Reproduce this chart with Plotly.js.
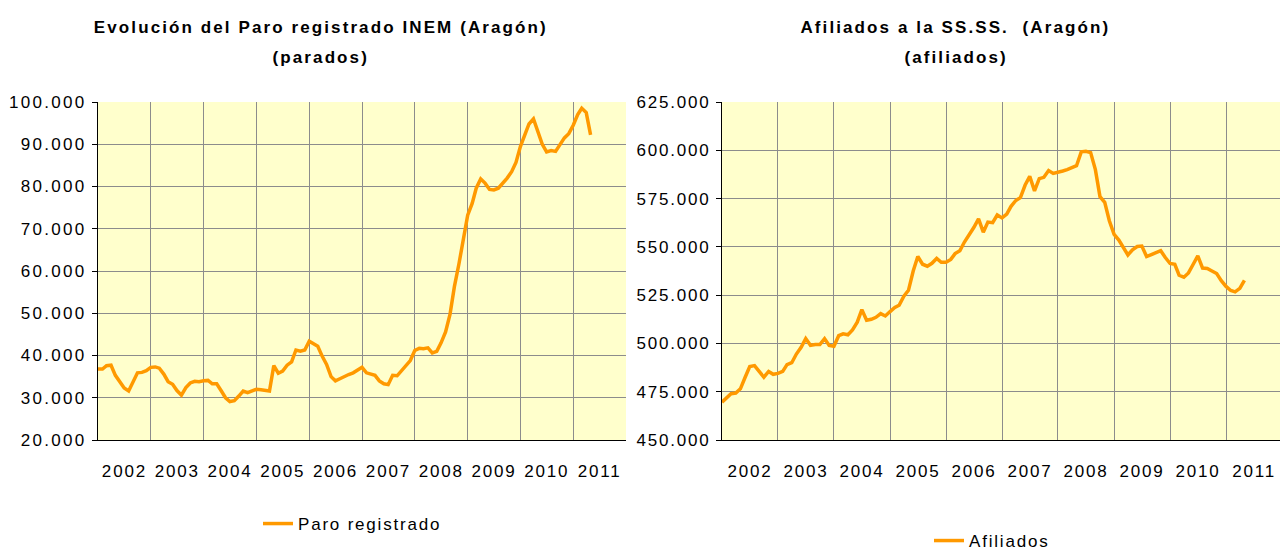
<!DOCTYPE html>
<html><head><meta charset="utf-8">
<script src="https://cdn.plot.ly/plotly-3.0.1.min.js"></script>
<style>
html,body{margin:0;padding:0;background:#fff}
#chart{width:1280px;height:550px}
#chart .main-svg text{letter-spacing:1.8px}
#chart .main-svg .ytick text{letter-spacing:2.3px}
#chart .main-svg .annotation-text{letter-spacing:2.1px}
</style>
</head><body><div id="chart"></div>
<script>
// Year labels on the category axes
const yearLabels = ['2002','2003','2004','2005','2006','2007','2008','2009','2010','2011'];
const startYear = 2002;

// Paro registrado INEM (Aragón), monthly, Jan 2002 - May 2011
const paro = [
  36800, 36800, 37600, 37700, 35300, 33800, 32300, 31600, 34000, 35900, 36000, 36400,
  37200, 37300, 37000, 35600, 33800, 33200, 31700, 30600, 32400, 33500, 33900, 33800,
  34000, 34100, 33300, 33300, 31700, 30000, 29100, 29300, 30400, 31600, 31200, 31500,
  32000, 31900, 31700, 31600, 37600, 35800, 36300, 37700, 38500, 41300, 41000, 41300,
  43400, 42700, 42200, 39800, 37900, 35000, 34000, 34500, 35100, 35500, 35900, 36500,
  37200, 35900, 35600, 35300, 34000, 33300, 33100, 35300, 35200, 36400, 37800, 38800,
  41200, 41700, 41600, 41800, 40600, 41000, 43000, 45600, 49800, 56300, 61600, 67500,
  73200, 76000, 79600, 81800, 80800, 79300, 79200, 79600, 80700, 82000, 83500, 85700,
  89500, 92200, 94800, 96000, 93000, 90000, 88200, 88500, 88300, 90000, 91500, 92500,
  94500, 97000, 98500, 97500, 92200
];

// Afiliados a la Seguridad Social (Aragón), monthly, Jan 2002 - May 2011
const afiliados = [
  469600, 472000, 474000, 474300, 476500, 482500, 488000, 488500, 485500, 482500, 485500, 484000,
  484500, 485500, 489000, 490000, 494500, 498000, 502500, 499000, 499400, 499400, 502500, 499000,
  498500, 504000, 505000, 504500, 507000, 511000, 517500, 512000, 512500, 513500, 515400, 514200,
  516500, 518600, 519800, 524500, 527500, 537500, 545000, 541000, 540000, 541500, 544000, 542000,
  542000, 543500, 546500, 548000, 552500, 556000, 560000, 564500, 557600, 562800, 562500, 566500,
  565000, 567000, 571000, 574000, 575500, 582000, 586500, 579000, 585300, 586000, 589500, 588000,
  588500, 589300, 590000, 591000, 592000, 599200, 599500, 598800, 590000, 576000, 573000, 563500,
  556500, 553500, 549500, 545800, 548500, 550200, 550400, 545000, 546000, 547000, 548000, 544500,
  541400, 541000, 535300, 534300, 536500, 541000, 545300, 539000, 538800, 537500, 536200, 532500,
  529500, 527400, 526700, 528500, 532700
];

function monthDates(n) {
  const out = [];
  for (let i = 0; i < n; i++) {
    const y = startYear + Math.floor(i / 12);
    const m = (i % 12) + 1;
    out.push(y + '-' + String(m).padStart(2, '0') + '-01');
  }
  return out;
}

const FONT = '"Liberation Sans", Arial, sans-serif';
const ORANGE = '#FF9900';
const GRID = '#8c8c8c';

const traces = [
  {
    x: monthDates(paro.length), y: paro, type: 'scatter', mode: 'lines',
    name: 'Paro registrado', line: {color: ORANGE, width: 3.5},
    xaxis: 'x', yaxis: 'y', legend: 'legend', hoverinfo: 'skip'
  },
  {
    x: monthDates(afiliados.length), y: afiliados, type: 'scatter', mode: 'lines',
    name: 'Afiliados', line: {color: ORANGE, width: 3.5},
    xaxis: 'x2', yaxis: 'y2', legend: 'legend2', hoverinfo: 'skip'
  }
];

function xAxis(domain, rangeEnd, anchor) {
  return {
    domain: domain, anchor: anchor, type: 'date',
    range: [startYear + '-01-01', rangeEnd],
    tick0: startYear + '-01-01', dtick: 'M12', ticklabelmode: 'period', tickformat: '%Y',
    showgrid: true, gridcolor: GRID, gridwidth: 1,
    showline: true, linecolor: '#000', linewidth: 1,
    ticks: '', ticklabelstandoff: 16,
    tickfont: {family: FONT, size: 17, color: '#000'},
    fixedrange: true
  };
}
function yAxis(range, dtick, anchor) {
  return {
    domain: [0, 1], anchor: anchor, range: range, dtick: dtick, tickformat: ',d',
    showgrid: true, gridcolor: GRID, gridwidth: 1, zeroline: false,
    showline: true, linecolor: '#000', linewidth: 1,
    ticks: 'outside', ticklen: 5, tickcolor: '#000', ticklabelstandoff: 2,
    tickfont: {family: FONT, size: 17, color: '#000'},
    fixedrange: true
  };
}

const layout = {
  width: 1280, height: 550,
  margin: {l: 0, r: 0, t: 102, b: 110},
  paper_bgcolor: '#ffffff', plot_bgcolor: '#FFFFCC',
  separators: ',.',
  font: {family: FONT, size: 17, color: '#000'},
  xaxis: xAxis([98 / 1280, 626 / 1280], '2012-01-01', 'y'),
  yaxis: yAxis([20000, 100000], 10000, 'x'),
  xaxis2: xAxis([722 / 1280, 1], '2011-12-19', 'y2'),
  yaxis2: yAxis([450000, 625000], 25000, 'x2'),
  showlegend: true,
  legend: {
    x: 258 / 1280, xanchor: 'left', y: 1 - 524 / 550, yref: 'container', yanchor: 'middle',
    orientation: 'h', entrywidth: 220,
    bgcolor: 'rgba(0,0,0,0)', font: {family: FONT, size: 17, color: '#000'}
  },
  legend2: {
    x: 929 / 1280, xanchor: 'left', y: 1 - 541 / 550, yref: 'container', yanchor: 'middle',
    orientation: 'h', entrywidth: 180,
    bgcolor: 'rgba(0,0,0,0)', font: {family: FONT, size: 17, color: '#000'}
  },
  annotations: [
    {text: '<b>Evolución del Paro registrado INEM (Aragón)</b>', x: 320.5 / 1280, y: (440 - 27) / 338,
     xref: 'paper', yref: 'paper', xanchor: 'center', yanchor: 'middle', showarrow: false,
     font: {family: FONT, size: 17, color: '#000'}},
    {text: '<b>(parados)</b>', x: 320.5 / 1280, y: (440 - 57) / 338,
     xref: 'paper', yref: 'paper', xanchor: 'center', yanchor: 'middle', showarrow: false,
     font: {family: FONT, size: 17, color: '#000'}},
    {text: '<b>Afiliados a la SS.SS.\u00A0 (Aragón)</b>', x: 955.5 / 1280, y: (440 - 27) / 338,
     xref: 'paper', yref: 'paper', xanchor: 'center', yanchor: 'middle', showarrow: false,
     font: {family: FONT, size: 17, color: '#000'}},
    {text: '<b>(afiliados)</b>', x: 955.5 / 1280, y: (440 - 57) / 338,
     xref: 'paper', yref: 'paper', xanchor: 'center', yanchor: 'middle', showarrow: false,
     font: {family: FONT, size: 17, color: '#000'}}
  ]
};

Plotly.newPlot('chart', traces, layout, {displayModeBar: false, staticPlot: true});
</script>
</body></html>
